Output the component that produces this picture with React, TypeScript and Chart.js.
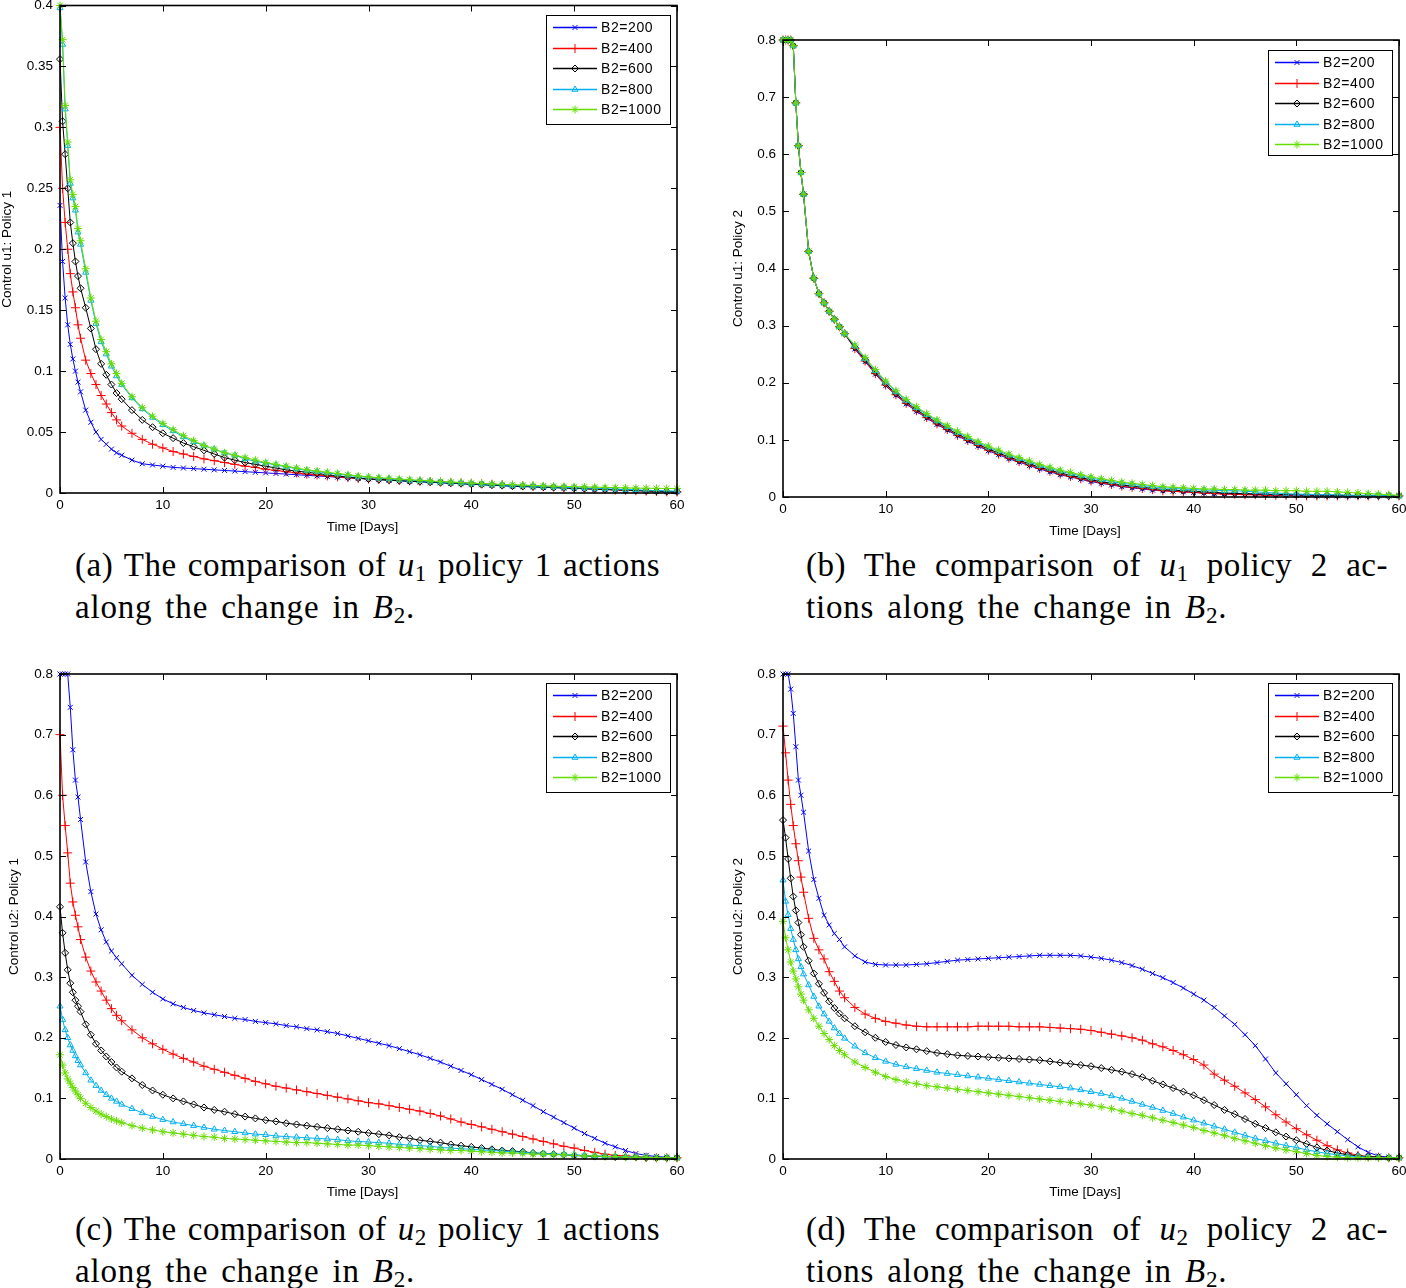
import React, { useEffect, useRef } from 'react';
import { Chart, registerables } from 'chart.js';
import { drawPoint } from 'chart.js/helpers';

Chart.register(...registerables);

// ---------------- DATA ----------------
const timeDays = [
  0, 0.25, 0.5, 0.75, 1, 1.25, 1.5, 1.75, 2, 2.5, 3, 3.5, 4, 4.5, 5, 5.5, 6,
  7, 8, 9, 10, 11, 12, 13, 14, 15, 16, 17, 18, 19, 20, 21, 22, 23, 24, 25, 26, 27, 28, 29, 30,
  31, 32, 33, 34, 35, 36, 37, 38, 39, 40, 41, 42, 43, 44, 45, 46, 47, 48, 49, 50, 51, 52, 53, 54, 55, 56, 57, 58, 59, 60,
];

const seriesLabels = ['B2=200', 'B2=400', 'B2=600', 'B2=800', 'B2=1000'];
const xTickValues = [0, 10, 20, 30, 40, 50, 60];

// (a) u1, policy 1
const a200 = [0.236,0.19,0.16,0.138,0.122,0.11,0.1,0.091,0.083,0.068,0.058,0.05,0.044,0.04,0.036,0.033,0.031,
  0.027,0.024,0.023,0.022,0.021,0.0205,0.02,0.0195,0.019,0.0185,0.018,0.0175,0.017,0.0165,0.016,0.0155,0.015,0.0145,0.014,0.0135,0.013,0.0125,0.012,0.0115,
  0.011,0.0105,0.01,0.0096,0.0092,0.0088,0.0084,0.008,0.0076,0.0072,0.0068,0.0064,0.006,0.0056,0.0053,0.005,0.0047,0.0044,0.0041,0.0038,0.0035,0.0032,0.0029,0.0026,0.0023,0.002,0.0018,0.0015,0.0012,0.001];
const a400 = [0.3,0.25,0.222,0.2,0.18,0.165,0.152,0.138,0.127,0.109,0.098,0.089,0.08,0.073,0.066,0.06,0.055,
  0.049,0.044,0.04,0.037,0.034,0.032,0.03,0.028,0.0265,0.025,0.0235,0.022,0.021,0.0195,0.0185,0.0175,0.0165,0.0155,0.0148,0.014,0.0133,0.0126,0.012,0.0115,
  0.0112,0.0108,0.0104,0.01,0.0097,0.0094,0.009,0.0087,0.0083,0.008,0.0076,0.0072,0.0068,0.0064,0.006,0.0056,0.0052,0.0048,0.0044,0.004,0.0036,0.0032,0.0028,0.0025,0.0022,0.0019,0.0016,0.0013,0.001,0.0008];
const a600 = [0.356,0.305,0.278,0.25,0.222,0.205,0.19,0.178,0.168,0.152,0.135,0.118,0.106,0.097,0.089,0.082,0.077,
  0.068,0.06,0.054,0.049,0.045,0.041,0.038,0.035,0.032,0.029,0.027,0.025,0.0235,0.022,0.0205,0.019,0.018,0.017,0.016,0.015,0.014,0.013,0.0122,0.0115,
  0.011,0.0105,0.0101,0.0097,0.0093,0.0089,0.0085,0.0081,0.0077,0.0073,0.0069,0.0065,0.0061,0.0057,0.0054,0.0051,0.0048,0.0045,0.0042,0.0039,0.0036,0.0033,0.003,0.0027,0.0024,0.0021,0.0018,0.0015,0.0012,0.001];
const a800 = [0.398,0.368,0.315,0.285,0.254,0.242,0.232,0.214,0.204,0.181,0.158,0.139,0.124,0.114,0.104,0.096,0.089,
  0.078,0.069,0.062,0.056,0.051,0.046,0.042,0.039,0.036,0.033,0.031,0.028,0.026,0.0245,0.023,0.0215,0.02,0.0185,0.0175,0.0165,0.0155,0.0145,0.0135,0.0128,
  0.0122,0.0116,0.011,0.0105,0.01,0.0095,0.009,0.0086,0.0082,0.0078,0.0074,0.007,0.0066,0.0062,0.0059,0.0056,0.0053,0.005,0.0047,0.0044,0.0041,0.0038,0.0035,0.0032,0.0029,0.0026,0.0023,0.002,0.0017,0.0015];
const a1000 = [0.4,0.372,0.318,0.288,0.257,0.245,0.235,0.217,0.207,0.184,0.16,0.141,0.126,0.116,0.106,0.098,0.09,
  0.079,0.07,0.063,0.057,0.052,0.047,0.043,0.039,0.036,0.033,0.031,0.029,0.027,0.025,0.0235,0.022,0.0205,0.019,0.018,0.017,0.016,0.015,0.014,0.0132,
  0.0126,0.012,0.0114,0.0109,0.0104,0.0099,0.0094,0.009,0.0086,0.0082,0.0078,0.0074,0.0071,0.0068,0.0065,0.0062,0.0059,0.0056,0.0054,0.0052,0.005,0.0048,0.0046,0.0044,0.0042,0.004,0.0039,0.0038,0.0037,0.0036];

// (b) u1, policy 2
const b200 = [0.8,0.8,0.8,0.8,0.79,0.69,0.615,0.568,0.53,0.43,0.383,0.356,0.34,0.325,0.311,0.298,0.286,
  0.259,0.237,0.215,0.195,0.178,0.163,0.15,0.138,0.127,0.117,0.107,0.098,0.089,0.081,0.074,0.067,0.061,0.055,0.049,0.044,0.039,0.035,0.031,0.027,
  0.024,0.021,0.018,0.016,0.014,0.012,0.011,0.01,0.009,0.008,0.007,0.006,0.006,0.005,0.005,0.004,0.004,0.003,0.003,0.003,0.003,0.002,0.002,0.002,0.002,0.002,0.002,0.002,0.002,0.002];
const b400 = [0.8,0.8,0.8,0.8,0.79,0.69,0.615,0.568,0.53,0.43,0.383,0.356,0.34,0.325,0.311,0.298,0.286,
  0.26,0.238,0.216,0.196,0.179,0.164,0.151,0.139,0.128,0.118,0.108,0.099,0.09,0.082,0.075,0.068,0.062,0.056,0.05,0.045,0.04,0.036,0.032,0.028,
  0.025,0.022,0.019,0.017,0.015,0.013,0.011,0.01,0.009,0.008,0.007,0.006,0.005,0.005,0.004,0.004,0.003,0.003,0.003,0.002,0.002,0.002,0.002,0.002,0.002,0.002,0.002,0.002,0.002,0.002];
const b600 = [0.8,0.8,0.8,0.8,0.79,0.69,0.615,0.568,0.53,0.43,0.383,0.356,0.34,0.325,0.311,0.298,0.286,
  0.262,0.24,0.218,0.198,0.181,0.166,0.153,0.141,0.13,0.12,0.11,0.101,0.092,0.084,0.077,0.07,0.064,0.058,0.052,0.047,0.042,0.038,0.034,0.03,
  0.027,0.024,0.021,0.019,0.017,0.015,0.013,0.012,0.011,0.01,0.009,0.008,0.007,0.0065,0.006,0.0055,0.005,0.0045,0.004,0.0038,0.0036,0.0034,0.0032,0.003,0.0028,0.0026,0.0024,0.0022,0.002,0.002];
const b800 = [0.8,0.8,0.8,0.8,0.79,0.69,0.615,0.568,0.53,0.43,0.383,0.356,0.34,0.325,0.311,0.298,0.286,
  0.264,0.242,0.221,0.201,0.184,0.169,0.156,0.144,0.133,0.123,0.113,0.104,0.095,0.087,0.08,0.073,0.067,0.061,0.055,0.05,0.045,0.041,0.037,0.033,
  0.03,0.027,0.024,0.022,0.02,0.018,0.016,0.015,0.014,0.013,0.012,0.012,0.011,0.011,0.01,0.009,0.008,0.007,0.006,0.005,0.005,0.004,0.004,0.004,0.003,0.003,0.003,0.003,0.002,0.002];
const b1000 = [0.8,0.8,0.8,0.8,0.79,0.69,0.615,0.568,0.53,0.43,0.383,0.356,0.34,0.325,0.311,0.298,0.286,
  0.266,0.244,0.223,0.203,0.186,0.171,0.158,0.146,0.135,0.125,0.115,0.106,0.097,0.089,0.082,0.075,0.069,0.063,0.057,0.052,0.047,0.043,0.039,0.035,
  0.032,0.029,0.026,0.024,0.022,0.02,0.018,0.017,0.016,0.015,0.014,0.014,0.013,0.013,0.012,0.012,0.012,0.011,0.011,0.011,0.01,0.01,0.01,0.009,0.008,0.007,0.006,0.005,0.004,0.003];

// (c) u2, policy 1
const c200 = [0.8,0.8,0.8,0.8,0.745,0.675,0.625,0.597,0.56,0.49,0.441,0.404,0.378,0.358,0.343,0.332,0.322,
  0.303,0.288,0.275,0.264,0.256,0.25,0.245,0.241,0.238,0.235,0.232,0.23,0.227,0.225,0.223,0.22,0.218,0.215,0.213,0.21,0.207,0.203,0.199,0.195,
  0.191,0.187,0.182,0.177,0.172,0.166,0.16,0.153,0.146,0.139,0.131,0.123,0.115,0.106,0.097,0.088,0.078,0.069,0.06,0.051,0.042,0.034,0.026,0.02,0.014,0.009,0.006,0.004,0.003,0.002];
const c400 = [0.7,0.6,0.55,0.505,0.455,0.424,0.402,0.383,0.362,0.333,0.31,0.292,0.277,0.262,0.248,0.237,0.228,
  0.213,0.2,0.19,0.181,0.173,0.166,0.16,0.153,0.148,0.143,0.138,0.133,0.128,0.124,0.12,0.117,0.114,0.111,0.108,0.105,0.102,0.099,0.096,0.093,
  0.091,0.088,0.085,0.082,0.079,0.075,0.071,0.066,0.061,0.057,0.053,0.049,0.045,0.041,0.037,0.033,0.029,0.025,0.021,0.018,0.014,0.011,0.008,0.006,0.005,0.004,0.003,0.002,0.002,0.002];
const c600 = [0.416,0.373,0.34,0.312,0.29,0.275,0.262,0.252,0.243,0.222,0.205,0.19,0.179,0.169,0.16,0.151,0.144,
  0.133,0.122,0.113,0.106,0.1,0.095,0.09,0.085,0.081,0.078,0.074,0.07,0.067,0.064,0.062,0.059,0.057,0.055,0.053,0.051,0.049,0.047,0.045,0.043,
  0.041,0.039,0.036,0.034,0.031,0.029,0.027,0.024,0.022,0.02,0.018,0.016,0.014,0.013,0.012,0.01,0.009,0.008,0.007,0.006,0.005,0.004,0.004,0.003,0.003,0.003,0.002,0.002,0.002,0.002];
const c800 = [0.252,0.23,0.213,0.2,0.188,0.179,0.17,0.162,0.155,0.142,0.13,0.121,0.113,0.106,0.1,0.095,0.09,
  0.083,0.076,0.07,0.065,0.061,0.058,0.055,0.052,0.049,0.047,0.045,0.043,0.041,0.04,0.038,0.037,0.036,0.035,0.034,0.033,0.032,0.03,0.029,0.028,
  0.027,0.026,0.024,0.023,0.022,0.021,0.019,0.018,0.017,0.016,0.015,0.014,0.013,0.012,0.011,0.01,0.009,0.008,0.008,0.007,0.006,0.005,0.005,0.004,0.004,0.003,0.003,0.002,0.002,0.002];
const c1000 = [0.172,0.155,0.142,0.132,0.125,0.118,0.112,0.106,0.1,0.092,0.085,0.079,0.074,0.07,0.066,0.063,0.06,
  0.055,0.051,0.048,0.045,0.043,0.041,0.039,0.037,0.036,0.034,0.033,0.032,0.031,0.03,0.029,0.028,0.027,0.027,0.026,0.025,0.024,0.023,0.023,0.022,
  0.021,0.02,0.019,0.018,0.017,0.016,0.015,0.014,0.014,0.013,0.012,0.011,0.01,0.01,0.009,0.008,0.008,0.007,0.007,0.006,0.005,0.005,0.004,0.004,0.003,0.003,0.003,0.002,0.002,0.002];

// (d) u2, policy 2
const d200 = [0.8,0.8,0.8,0.775,0.735,0.68,0.625,0.6,0.572,0.508,0.461,0.43,0.402,0.386,0.372,0.362,0.35,
  0.335,0.325,0.321,0.32,0.32,0.32,0.321,0.322,0.324,0.326,0.328,0.329,0.33,0.331,0.332,0.333,0.334,0.335,0.336,0.336,0.336,0.336,0.335,0.333,
  0.331,0.328,0.324,0.319,0.313,0.306,0.299,0.291,0.282,0.272,0.262,0.25,0.236,0.222,0.205,0.187,0.165,0.142,0.124,0.106,0.088,0.072,0.058,0.045,0.032,0.02,0.011,0.005,0.003,0.002];
const d400 = [0.714,0.67,0.625,0.585,0.55,0.52,0.492,0.465,0.44,0.397,0.364,0.345,0.33,0.309,0.293,0.277,0.266,
  0.25,0.239,0.232,0.227,0.224,0.221,0.219,
  0.218,0.218,0.218,0.218,0.218,
  0.219,0.219,0.219,0.219,0.218,
  0.218,0.218,0.217,0.216,0.215,0.214,0.212,
  0.209,0.206,0.203,0.2,0.196,0.19,0.185,0.179,0.172,0.164,0.155,0.14,0.13,0.12,0.109,0.098,0.086,0.073,0.061,0.05,0.04,0.031,0.022,0.015,0.01,0.006,0.004,0.003,0.002,0.002];
const d600 = [0.559,0.53,0.495,0.463,0.433,0.41,0.39,0.37,0.35,0.327,0.306,0.289,0.274,0.26,0.249,0.24,0.232,
  0.219,0.209,0.2,0.193,0.188,0.184,0.181,0.178,0.175,0.173,0.171,0.17,0.169,0.168,0.167,0.166,0.165,0.164,0.163,0.161,0.159,0.157,0.155,0.153,
  0.15,0.147,0.144,0.14,0.135,0.129,0.123,0.117,0.111,0.105,0.097,0.089,0.081,0.074,0.066,0.058,0.051,0.044,0.037,0.031,0.025,0.019,0.014,0.01,0.007,0.005,0.004,0.003,0.002,0.002];
const d800 = [0.46,0.425,0.403,0.38,0.362,0.345,0.33,0.317,0.305,0.287,0.268,0.252,0.239,0.227,0.216,0.207,0.199,
  0.186,0.175,0.167,0.161,0.156,0.152,0.149,0.146,0.143,0.141,0.139,0.137,0.135,0.133,0.131,0.129,0.127,0.125,0.123,0.121,0.119,0.117,0.114,0.111,
  0.108,0.104,0.1,0.095,0.09,0.085,0.08,0.075,0.069,0.064,0.059,0.054,0.049,0.044,0.039,0.034,0.03,0.026,0.022,0.019,0.015,0.012,0.009,0.007,0.005,0.004,0.003,0.002,0.002,0.002];
const d1000 = [0.392,0.365,0.345,0.325,0.31,0.297,0.284,0.272,0.262,0.246,0.232,0.219,0.207,0.197,0.187,0.179,0.172,
  0.16,0.151,0.143,0.136,0.131,0.127,0.124,0.121,0.119,0.117,0.115,0.113,0.111,0.109,0.107,0.105,0.103,0.101,0.099,0.097,0.095,0.093,0.091,0.089,
  0.086,0.083,0.079,0.075,0.072,0.068,0.064,0.06,0.056,0.052,0.047,0.043,0.039,0.034,0.03,0.026,0.022,0.018,0.015,0.012,0.009,0.006,0.004,0.003,0.002,0.002,0.002,0.002,0.002,0.002];

// ---------------- STYLE / LAYOUT ----------------
const SERIES_STYLES = [
  { color: '#0000ff', pointStyle: 'crossRot', radius: 3.5, fill: false },
  { color: '#ff0000', pointStyle: 'cross', radius: 4.5, fill: false },
  { color: '#000000', pointStyle: 'rectRot', radius: 3.5, fill: false },
  { color: '#00b0f0', pointStyle: 'triangle', radius: 3.5, fill: false },
  { color: '#66dd00', pointStyle: 'star', radius: 4, fill: true },
];

type Box = { left: number; top: number; width: number; height: number };
type Area = { l: number; t: number; r: number; b: number };
type PanelDef = {
  canvas: Box;
  area: Area;
  yMax: number;
  yStep: number;
  series: number[][];
  yTitle: string;
  yTitleX: number;
  xTitleY: number;
  legend: { l: number; t: number; w: number; h: number };
};

const PANELS: PanelDef[] = [
  {
    canvas: { left: 0, top: 0, width: 703, height: 545 },
    area: { l: 60, t: 5, r: 677, b: 493 },
    yMax: 0.4, yStep: 0.05,
    series: [a200, a400, a600, a800, a1000],
    yTitle: 'Control u1: Policy 1', yTitleX: 7, xTitleY: 527,
    legend: { l: 546, t: 15, w: 124, h: 109 },
  },
  {
    canvas: { left: 703, top: 0, width: 703, height: 545 },
    area: { l: 783, t: 40, r: 1399, b: 497 },
    yMax: 0.8, yStep: 0.1,
    series: [b200, b400, b600, b800, b1000],
    yTitle: 'Control u1: Policy 2', yTitleX: 738, xTitleY: 531,
    legend: { l: 1268, t: 50, w: 124, h: 105 },
  },
  {
    canvas: { left: 0, top: 640, width: 703, height: 565 },
    area: { l: 60, t: 674, r: 677, b: 1159 },
    yMax: 0.8, yStep: 0.1,
    series: [c200, c400, c600, c800, c1000],
    yTitle: 'Control u2: Policy 1', yTitleX: 14, xTitleY: 1192,
    legend: { l: 546, t: 683, w: 124, h: 109 },
  },
  {
    canvas: { left: 703, top: 640, width: 703, height: 565 },
    area: { l: 783, t: 674, r: 1399, b: 1159 },
    yMax: 0.8, yStep: 0.1,
    series: [d200, d400, d600, d800, d1000],
    yTitle: 'Control u2: Policy 2', yTitleX: 738, xTitleY: 1192,
    legend: { l: 1268, t: 683, w: 124, h: 109 },
  },
];

const SANS = '"Liberation Sans", Arial, Helvetica, sans-serif';

function ChartPanel({ panel }: { panel: PanelDef }) {
  const ref = useRef<HTMLCanvasElement | null>(null);
  const c = panel.canvas;
  const a = panel.area;

  useEffect(() => {
    const canvas = ref.current;
    if (!canvas) return;
    const ox = c.left;
    const oy = c.top;

    const framePlugin = {
      id: 'matlabFrame',
      afterDraw(chart: any) {
        const ctx: CanvasRenderingContext2D = chart.ctx;
        const ca = chart.chartArea;
        const xs = chart.scales.x;
        const ys = chart.scales.y;
        ctx.save();
        // inward ticks on all four sides
        ctx.strokeStyle = '#000';
        ctx.lineWidth = 1;
        ctx.beginPath();
        xs.ticks.forEach((t: any) => {
          const px = Math.round(xs.getPixelForValue(t.value)) + 0.5;
          ctx.moveTo(px, ca.bottom);
          ctx.lineTo(px, ca.bottom - 6);
          ctx.moveTo(px, ca.top);
          ctx.lineTo(px, ca.top + 6);
        });
        ys.ticks.forEach((t: any) => {
          const py = Math.round(ys.getPixelForValue(t.value)) + 0.5;
          ctx.moveTo(ca.left, py);
          ctx.lineTo(ca.left + 6, py);
          ctx.moveTo(ca.right, py);
          ctx.lineTo(ca.right - 6, py);
        });
        ctx.stroke();
        // axes box
        ctx.lineWidth = 1.6;
        ctx.strokeRect(ca.left, ca.top, ca.right - ca.left, ca.bottom - ca.top);

        // legend
        const L = panel.legend;
        const lx = L.l - ox;
        const ly = L.t - oy;
        ctx.fillStyle = '#ffffff';
        ctx.fillRect(lx, ly, L.w, L.h);
        ctx.lineWidth = 1;
        ctx.strokeStyle = '#000';
        ctx.strokeRect(lx + 0.5, ly + 0.5, L.w, L.h);
        seriesLabels.forEach((lab, i) => {
          const st = SERIES_STYLES[i];
          const y = Math.round(ly + 12 + i * 20.6) + 0.5;
          ctx.strokeStyle = st.color;
          ctx.lineWidth = 1.4;
          ctx.beginPath();
          ctx.moveTo(lx + 7, y);
          ctx.lineTo(lx + 51, y);
          ctx.stroke();
          ctx.lineWidth = 1;
          ctx.fillStyle = st.fill ? st.color : 'rgba(0,0,0,0)';
          drawPoint(ctx, { pointStyle: st.pointStyle as any, radius: st.radius, rotation: 0, borderWidth: 1 } as any, lx + 29, y);
          ctx.fillStyle = '#000';
          ctx.font = '14px ' + SANS;
          ctx.textBaseline = 'middle';
          ctx.textAlign = 'left';
          (ctx as any).letterSpacing = '0.6px';
          ctx.fillText(lab, lx + 55, y + 0.5);
          (ctx as any).letterSpacing = '0px';
        });

        // axis titles
        ctx.fillStyle = '#000';
        ctx.font = '13.5px ' + SANS;
        ctx.textAlign = 'center';
        ctx.textBaseline = 'middle';
        ctx.fillText('Time [Days]', (ca.left + ca.right) / 2 - 6, panel.xTitleY - oy);
        ctx.save();
        ctx.translate(panel.yTitleX - ox, (ca.top + ca.bottom) / 2);
        ctx.rotate(-Math.PI / 2);
        ctx.fillText(panel.yTitle, 0, 0);
        ctx.restore();

        ctx.restore();
      },
    };

    const datasets = panel.series.map((vals, i) => {
      const st = SERIES_STYLES[i];
      return {
        label: seriesLabels[i],
        data: timeDays.map((t, k) => ({ x: t, y: vals[k] })),
        borderColor: st.color,
        backgroundColor: 'rgba(0,0,0,0)',
        borderWidth: 1,
        pointStyle: st.pointStyle,
        pointRadius: st.radius,
        pointBorderColor: st.color,
        pointBackgroundColor: st.fill ? st.color : 'rgba(0,0,0,0)',
        pointBorderWidth: 1,
        tension: 0,
        fill: false,
        clip: false as any,
        order: 5 - i,
      };
    });

    const chart = new Chart(canvas, {
      type: 'line',
      data: { datasets: datasets as any },
      options: {
        animation: false,
        responsive: false,
        devicePixelRatio: 1,
        events: [],
        layout: {
          padding: { left: 0, top: a.t - c.top, right: c.left + c.width - a.r, bottom: 0 },
        },
        scales: {
          x: {
            type: 'linear',
            min: 0,
            max: 60,
            grid: { display: false, drawTicks: false },
            border: { display: false },
            afterBuildTicks: (s: any) => {
              s.ticks = xTickValues.map((v) => ({ value: v }));
            },
            ticks: {
              stepSize: 10,
              padding: 4,
              maxRotation: 0,
              autoSkip: false,
              color: '#000',
              font: { family: SANS, size: 13.5 },
              callback: (v: any) => String(v),
            },
            afterFit: (s: any) => {
              s.height = c.top + c.height - a.b;
              s.paddingLeft = 0;
              s.paddingRight = 0;
            },
          },
          y: {
            type: 'linear',
            min: 0,
            max: panel.yMax,
            grid: { display: false, drawTicks: false },
            border: { display: false },
            ticks: {
              stepSize: panel.yStep,
              padding: 7,
              autoSkip: false,
              color: '#000',
              font: { family: SANS, size: 13.5 },
              callback: (v: any) => String(Math.round(Number(v) * 100) / 100),
            },
            afterFit: (s: any) => {
              s.width = a.l - c.left;
              s.paddingTop = 0;
              s.paddingBottom = 0;
            },
          },
        },
        plugins: {
          legend: { display: false },
          tooltip: { enabled: false },
        },
      },
      plugins: [framePlugin],
    });
    return () => chart.destroy();
  }, [panel]);

  return (
    <canvas
      ref={ref}
      width={c.width}
      height={c.height}
      style={{ position: 'absolute', left: c.left, top: c.top, width: c.width, height: c.height }}
    />
  );
}

const SERIF = '"Liberation Serif", "Times New Roman", serif';

function Sub({ children }: { children: React.ReactNode }) {
  return (
    <span style={{ fontSize: '0.7em', position: 'relative', top: '0.22em', fontStyle: 'normal' }}>{children}</span>
  );
}

function Caption({ left, top, width, line1, line2 }: { left: number; top: number; width: number; line1: React.ReactNode; line2: React.ReactNode }) {
  return (
    <div
      style={{
        position: 'absolute',
        left,
        top,
        width,
        fontFamily: SERIF,
        fontSize: 33,
        lineHeight: '39px',
        color: '#000',
      }}
    >
      <div style={{ textAlign: 'justify', textAlignLast: 'justify', letterSpacing: '0.5px' } as any}>{line1}</div>
      <div style={{ whiteSpace: 'nowrap', letterSpacing: '0.8px', wordSpacing: '4px' }}>{line2}</div>
    </div>
  );
}

const U = ({ n }: { n: string }) => (
  <>
    <i>u</i>
    <Sub>{n}</Sub>
  </>
);
const B2 = () => (
  <>
    <i>B</i>
    <Sub>2</Sub>
  </>
);

export default function App() {
  return (
    <div style={{ position: 'absolute', left: 0, top: 0, width: 1406, height: 1288, background: '#fff', overflow: 'hidden' }}>
      {PANELS.map((p, i) => (
        <ChartPanel key={i} panel={p} />
      ))}
      <Caption
        left={75}
        top={546}
        width={585}
        line1={<>(a) The comparison of <U n="1" /> policy 1 actions</>}
        line2={<>along the change in <B2 />.</>}
      />
      <Caption
        left={806}
        top={546}
        width={582}
        line1={<>(b) The comparison of <U n="1" /> policy 2 ac-</>}
        line2={<>tions along the change in <B2 />.</>}
      />
      <Caption
        left={75}
        top={1210}
        width={585}
        line1={<>(c) The comparison of <U n="2" /> policy 1 actions</>}
        line2={<>along the change in <B2 />.</>}
      />
      <Caption
        left={806}
        top={1210}
        width={582}
        line1={<>(d) The comparison of <U n="2" /> policy 2 ac-</>}
        line2={<>tions along the change in <B2 />.</>}
      />
    </div>
  );
}
